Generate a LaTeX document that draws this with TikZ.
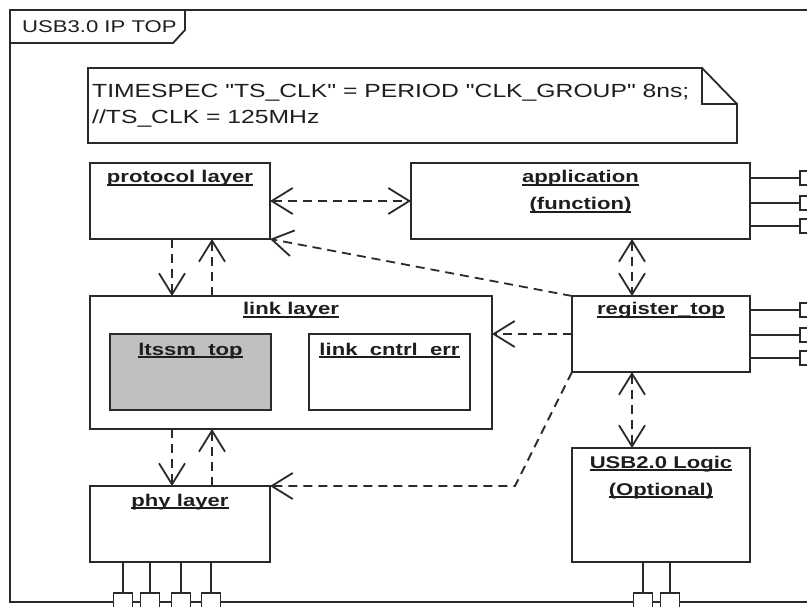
\documentclass[tikz,border=0pt]{standalone}
\usepackage{fontspec}
\setmainfont{Liberation Sans}[FakeStretch=1.3, Ligatures=TeXOff]
\usetikzlibrary{arrows.meta}

% bold label with an underline at a fixed depth below the baseline
\newcommand\ulbl[1]{\setbox0\hbox{#1}\rlap{\rule[-2.8pt]{\wd0}{1.4pt}}\box0}

\definecolor{ink}{HTML}{1E1E1E}
\definecolor{edge}{HTML}{2A2A2A}
\definecolor{shade}{HTML}{C0C0C0}

\tikzset{
  blk/.style={draw=edge, line width=2pt, fill=white, inner sep=0pt, outer sep=0pt},
  lbl/.style={text=ink, inner sep=0pt, anchor=base, font=\fontsize{17}{20}\selectfont\bfseries},
  dep/.style={draw=edge, line width=1.8pt, dash pattern=on 9pt off 6pt,
              >={Straight Barb[length=21pt, width=26pt]}},
  port/.style={draw=edge, line width=1.5pt, fill=white, inner sep=0pt, outer sep=0pt},
  wire/.style={draw=edge, line width=1.5pt},
}

\begin{document}
\begin{tikzpicture}[x=1pt, y=-1pt]
\useasboundingbox (0,0) rectangle (807,607);
\fill[white] (0,0) rectangle (807,607);
\clip (0,0) rectangle (807,607);

% outer frame with its name tab
\draw[draw=edge, line width=2pt] (809,10) -- (10,10) -- (10,602) -- (809,602) -- cycle;
\draw[draw=edge, line width=1.8pt] (10,43) -- (173,43) -- (185,30) -- (185,10);
\node[text=ink, inner sep=0pt, anchor=base west, font=\fontsize{17}{20}\selectfont] (frameName) at (22,33) {USB3.0 IP TOP};

% timing note
\draw[draw=edge, line width=1.8pt, fill=white] (88,68) -- (702,68) -- (737,104) -- (737,143) -- (88,143) -- cycle;
\draw[draw=edge, line width=1.8pt] (702,68) -- (702,104) -- (737,104);
\node[text=ink, inner sep=0pt, anchor=base west, font=\fontsize{19}{22}\selectfont] (note1) at (92,98) {TIMESPEC "TS\_CLK" = PERIOD "CLK\_GROUP" 8ns;};
\node[text=ink, inner sep=0pt, anchor=base west, font=\fontsize{19}{22}\selectfont] (note2) at (92,124) {//TS\_CLK = 125MHz};

% blocks
\node[blk, minimum width=180pt, minimum height=76pt] (proto) at (180,201) {};
\node[blk, minimum width=339pt, minimum height=76pt] (app) at (580.5,201) {};
\node[blk, minimum width=402pt, minimum height=133pt] (link) at (291,362.5) {};
\node[blk, fill=shade, minimum width=161pt, minimum height=76pt] (ltssm) at (190.5,372) {};
\node[blk, minimum width=161pt, minimum height=76pt] (lce) at (389.5,372) {};
\node[blk, minimum width=178pt, minimum height=76pt] (reg) at (661,334) {};
\node[blk, minimum width=178pt, minimum height=114pt] (usb) at (661,505) {};
\node[blk, minimum width=180pt, minimum height=76pt] (phy) at (180,524) {};

% block names
\node[lbl, yshift=-20pt] (protoName) at (proto.north) {\ulbl{protocol layer}};
\node[lbl, yshift=-20pt] (appName) at (app.north) {\ulbl{application}};
\node[lbl, yshift=-47pt] (appName2) at (app.north) {\ulbl{(function)}};
\node[lbl, yshift=-19pt] (linkName) at (link.north) {\ulbl{link layer}};
\node[lbl, yshift=-21pt] (ltssmName) at (ltssm.north) {\ulbl{ltssm\_top}};
\node[lbl, yshift=-21pt] (lceName) at (lce.north) {\ulbl{link\_cntrl\_err}};
\node[lbl, yshift=-19pt] (regName) at (reg.north) {\ulbl{register\_top}};
\node[lbl, yshift=-20pt] (usbName) at (usb.north) {\ulbl{USB2.0 Logic}};
\node[lbl, yshift=-47pt] (usbName2) at (usb.north) {\ulbl{(Optional)}};
\node[lbl, yshift=-20pt] (phyName) at (phy.north) {\ulbl{phy layer}};

% ports on the frame
\node[port, minimum width=18pt, minimum height=14pt] (ap1) at (809,178) {};
\node[port, minimum width=18pt, minimum height=14pt] (ap2) at (809,203) {};
\node[port, minimum width=18pt, minimum height=14pt] (ap3) at (809,226) {};
\node[port, minimum width=18pt, minimum height=14pt] (rp1) at (809,310) {};
\node[port, minimum width=18pt, minimum height=14pt] (rp2) at (809,335) {};
\node[port, minimum width=18pt, minimum height=14pt] (rp3) at (809,358) {};
\node[port, minimum width=19pt, minimum height=18pt] (pp1) at (123,602) {};
\node[port, minimum width=19pt, minimum height=18pt] (pp2) at (150,602) {};
\node[port, minimum width=19pt, minimum height=18pt] (pp3) at (181,602) {};
\node[port, minimum width=19pt, minimum height=18pt] (pp4) at (211,602) {};
\node[port, minimum width=19pt, minimum height=18pt] (up1) at (643,602) {};
\node[port, minimum width=19pt, minimum height=18pt] (up2) at (670,602) {};

\foreach \p in {ap1,ap2,ap3,rp1,rp2,rp3}{
  \draw[wire] (app.east |- \p.west) -- (\p.west);
}
\foreach \p in {pp1,pp2,pp3,pp4}{
  \draw[wire] (\p.north |- phy.south) -- (\p.north);
}
\foreach \p in {up1,up2}{
  \draw[wire] (\p.north |- usb.south) -- (\p.north);
}

% dependencies
\coordinate (colA) at (172,0);
\coordinate (colB) at (212,0);
\coordinate (colR) at (632,0);
\coordinate (bendx) at (515,0);

\draw[dep, <->] (proto.east) -- (app.west);
\draw[dep, ->] (reg.north west) -- (proto.south east);
\draw[dep, <->] (app.south -| colR) -- (reg.north -| colR);
\draw[dep, ->] (reg.west) -- (link.east |- reg.west);
\draw[dep, <->] (reg.south -| colR) -- (usb.north -| colR);
\draw[dep, ->] (reg.south west) -- (bendx |- phy.north east) -- (phy.north east);
\draw[dep, ->] (proto.south -| colA) -- (link.north -| colA);
\draw[dep, ->] (link.north -| colB) -- (proto.south -| colB);
\draw[dep, ->] (link.south -| colA) -- (phy.north -| colA);
\draw[dep, ->] (phy.north -| colB) -- (link.south -| colB);
\end{tikzpicture}
\end{document}
